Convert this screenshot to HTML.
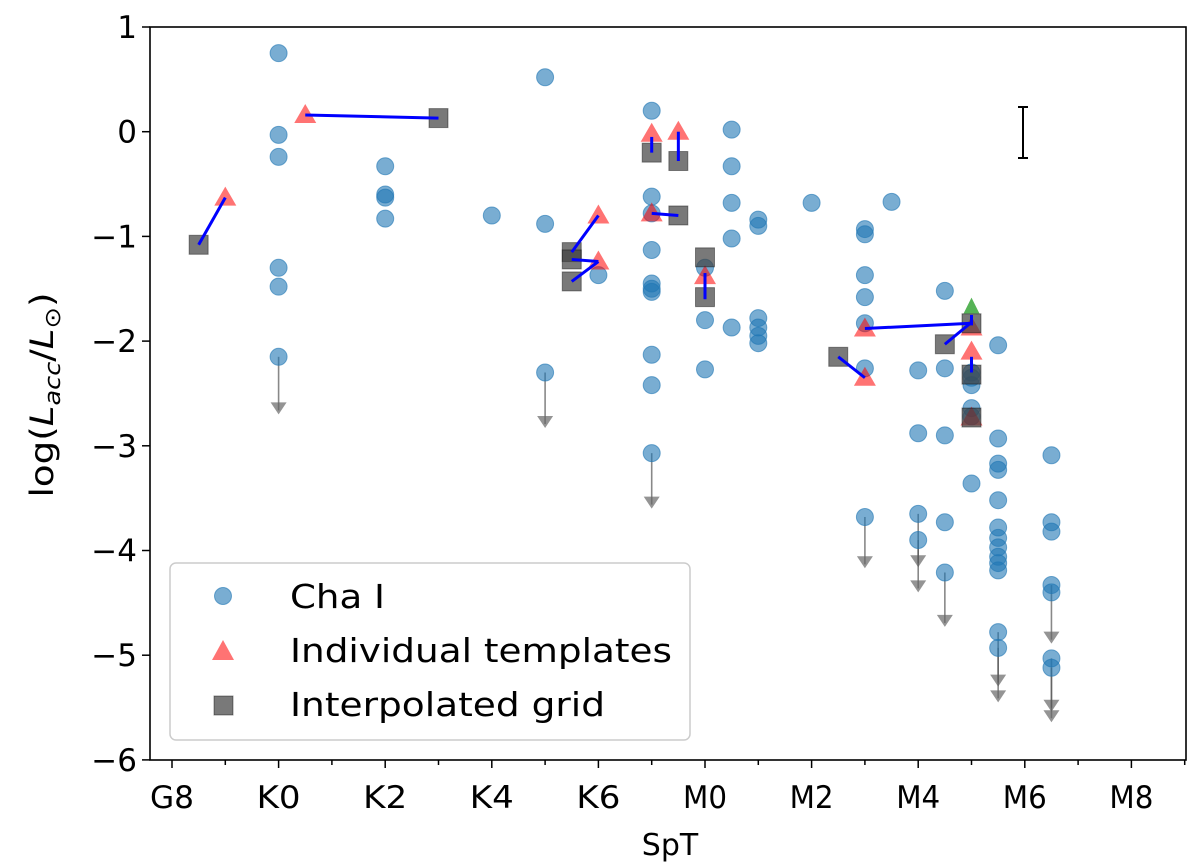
<!DOCTYPE html>
<html><head><meta charset="utf-8"><style>
body{margin:0;background:#fff}
svg{display:block;font-family:"DejaVu Sans","Liberation Sans",sans-serif}
</style></head><body>
<svg id="chart" width="1200" height="867" viewBox="0 0 1200 867" xmlns="http://www.w3.org/2000/svg">
<g id="marks"></g>
<rect x="150" y="27" width="1036" height="733" fill="none" stroke="#000" stroke-width="1.6"/>
<g id="axes"></g>
<text x="670" y="855" font-size="30" text-anchor="middle">SpT</text>
<text transform="translate(53,395) rotate(-90)" font-size="32" text-anchor="middle" textLength="205" lengthAdjust="spacingAndGlyphs">log(<tspan font-style="italic">L</tspan><tspan font-style="italic" font-size="22" dy="7">acc</tspan><tspan dy="-7">/</tspan><tspan font-style="italic">L</tspan><tspan font-size="22" dy="7">⊙</tspan><tspan dy="-7">)</tspan></text>
<g>
<rect x="170" y="563" width="520" height="177" rx="6" fill="#fff" fill-opacity="0.8" stroke="#ccc" stroke-width="1.5"/>
<circle cx="223" cy="596" r="8.5" fill="#1f77b4" fill-opacity="0.6" stroke="#1f77b4" stroke-opacity="0.6"/>
<text x="290" y="608" font-size="33" textLength="95" lengthAdjust="spacingAndGlyphs">Cha I</text>
<polygon points="223,640 234,660 212,660" fill="#ff0000" fill-opacity="0.55"/>
<text x="290" y="662" font-size="33" textLength="382" lengthAdjust="spacingAndGlyphs">Individual templates</text>
<rect x="214" y="696" width="19" height="19" fill="#404040" fill-opacity="0.7" stroke="#000" stroke-opacity="0.4"/>
<text x="290" y="716" font-size="33" textLength="315" lengthAdjust="spacingAndGlyphs">Interpolated grid</text>
</g>
</svg>
<script>
// Cha I sample: spectral type index (G8=0,...,K7=9,M0=10,...) and log Lacc
const chaX=[2,2,2,2,2,2, 4,4,4,4, 6, 7,7,7, 8, 9,9,9,9,9,9,9,9,9,9, 10,10,10, 10.5,10.5,10.5,10.5,10.5, 11,11,11,11,11,11, 12, 13,13,13,13,13,13,13, 13.5, 14,14,14,14, 14.5,14.5,14.5,14.5,14.5, 15,15,15,15,15,15, 15.5,15.5,15.5,15.5,15.5,15.5,15.5,15.5,15.5,15.5,15.5,15.5,15.5, 16.5,16.5,16.5,16.5,16.5,16.5,16.5];
const chaY=[0.75,-0.03,-0.24,-1.3,-1.48,-2.15, -0.33,-0.6,-0.63,-0.83, -0.8, 0.52,-0.88,-2.3, -1.37, 0.2,-0.62,-0.78,-1.13,-1.45,-1.5,-1.53,-2.13,-2.42,-3.07, -1.3,-1.8,-2.27, 0.02,-0.33,-0.68,-1.02,-1.87, -0.84,-0.9,-1.78,-1.87,-1.95,-2.02, -0.68, -0.93,-0.98,-1.37,-1.58,-1.83,-2.26,-3.68, -0.67, -2.28,-2.88,-3.65,-3.9, -1.52,-2.26,-2.9,-3.73,-4.21, -2.3,-2.35,-2.42,-2.64,-2.72,-3.36, -2.04,-2.93,-3.17,-3.23,-3.52,-3.78,-3.88,-3.97,-4.06,-4.12,-4.19,-4.78,-4.93, -3.09,-3.73,-3.82,-4.33,-4.4,-5.03,-5.12];
// Upper limits: start value and arrow end value
const limX=[2,7,9,13,14,14,14.5,15.5,15.5,16.5,16.5,16.5];
const limY0=[-2.15,-2.3,-3.07,-3.68,-3.65,-3.9,-4.21,-4.78,-4.93,-4.33,-5.03,-5.12];
const limY1=[-2.7,-2.83,-3.6,-4.17,-4.16,-4.4,-4.73,-5.3,-5.45,-4.89,-5.54,-5.64];
// Individual templates (triangles)
const triX=[1,2.5,8,8,9,9.5,9,10,13,13,15,15,15];
const triY=[-0.63,0.16,-0.8,-1.24,-0.02,0.0,-0.78,-1.38,-1.88,-2.35,-1.87,-2.1,-2.73];
// Interpolated grid (squares)
const sqX=[0.5,5,7.5,7.5,7.5,9,9.5,9.5,10,10,12.5,14.5,15,15,15];
const sqY=[-1.08,0.13,-1.15,-1.22,-1.43,-0.2,-0.28,-0.8,-1.2,-1.58,-2.15,-2.03,-1.83,-2.32,-2.73];
// Connecting lines (template -> grid)
const lnX0=[1,2.5,8,8,8,9,9.5,9,10,13,13,14.5,15,15];
const lnY0=[-0.63,0.16,-0.8,-1.24,-1.24,-0.05,0.0,-0.78,-1.35,-1.88,-2.35,-2.03,-1.75,-2.15];
const lnX1=[0.5,5,7.5,7.5,7.5,9,9.5,9.5,10,15,12.5,15,15,15];
const lnY1=[-1.08,0.13,-1.15,-1.22,-1.43,-0.2,-0.28,-0.8,-1.6,-1.83,-2.15,-1.82,-1.85,-2.3];
const greenX=[15], greenY=[-1.68];
const xTickIdx=[0,2,4,6,8,10,12,14,16,18];
const xTickLab=["G8","K0","K2","K4","K6","M0","M2","M4","M6","M8"];
const yTicks=[1,0,-1,-2,-3,-4,-5,-6];

const sx=v=>172+v*53.3;
const sy=v=>131.7-v*104.7;
const NS="http://www.w3.org/2000/svg";
const marks=document.getElementById('marks'), axes=document.getElementById('axes');
function mk(tag,attrs,parent){const e=document.createElementNS(NS,tag);for(const k in attrs)e.setAttribute(k,attrs[k]);parent.appendChild(e);return e;}

for(let i=0;i<limX.length;i++){
  const x=sx(limX[i]),y0=sy(limY0[i]),y1=sy(limY1[i]);
  const g=mk('g',{},marks);
  
  
  mk('line',{x1:x,y1:y0,x2:x,y2:y1-4,stroke:'#555','stroke-opacity':0.7,'stroke-width':1.6},g);
  mk('polygon',{points:`${x-8},${y1-12} ${x+8},${y1-12} ${x},${y1}`,fill:'#666','fill-opacity':0.7},g);
}
for(let i=0;i<chaX.length;i++){
  const c=mk('circle',{cx:sx(chaX[i]),cy:sy(chaY[i]),r:8.5,fill:'#1f77b4','fill-opacity':0.6,stroke:'#1f77b4','stroke-opacity':0.6},marks);
  
  
}
for(let i=0;i<greenX.length;i++){
  const x=sx(greenX[i]),y=sy(greenY[i]);
  const p=mk('polygon',{points:`${x},${y-10} ${x+8},${y+6} ${x-8},${y+6}`,fill:'#2ca02c','fill-opacity':0.8},marks);
  
  
}
for(let i=0;i<triX.length;i++){
  const x=sx(triX[i]),y=sy(triY[i]);
  const p=mk('polygon',{points:`${x},${y-11} ${x+11},${y+8} ${x-11},${y+8}`,fill:'#ff0000','fill-opacity':0.55},marks);
  
  
}
for(let i=0;i<sqX.length;i++){
  const x=sx(sqX[i]),y=sy(sqY[i]);
  const r=mk('rect',{x:x-9.5,y:y-9.5,width:19,height:19,fill:'#404040','fill-opacity':0.7,stroke:'#000','stroke-opacity':0.4},marks);
  
  
}
for(let i=0;i<lnX0.length;i++){
  const l=mk('line',{x1:sx(lnX0[i]),y1:sy(lnY0[i]),x2:sx(lnX1[i]),y2:sy(lnY1[i]),stroke:'#0000ff','stroke-width':3},marks);
  
  
}
// error bar
const eb=mk('g',{stroke:'#000','stroke-width':2},marks);


mk('line',{x1:1023,y1:107,x2:1023,y2:158},eb);
mk('line',{x1:1018,y1:107,x2:1028,y2:107},eb);
mk('line',{x1:1018,y1:158,x2:1028,y2:158},eb);

// x ticks (major + minor)
for(let v=0;v<=19;v++){
  const t=mk('line',{x1:sx(v),y1:760,x2:sx(v),y2:760+(v%2===0?8:5),stroke:'#000','stroke-width':1.5},axes);
  
  
}
for(let i=0;i<xTickIdx.length;i++){
  const t=mk('text',{x:sx(xTickIdx[i]),y:808,'font-size':31,'text-anchor':'middle',textLength:xTickLab[i].length*22,lengthAdjust:'spacingAndGlyphs'},axes);
  t.textContent=xTickLab[i];
  
  
}
for(let i=0;i<yTicks.length;i++){
  const y=sy(yTicks[i]);
  const t=mk('line',{x1:142,y1:y,x2:150,y2:y,stroke:'#000','stroke-width':1.5},axes);
  
  
  const tx=mk('text',{x:137,y:y+11,'font-size':31,'text-anchor':'end'},axes);
  tx.textContent=yTicks[i]<0?'\u2212'+Math.abs(yTicks[i]):String(yTicks[i]);
  
  
}
</script>
</body></html>
